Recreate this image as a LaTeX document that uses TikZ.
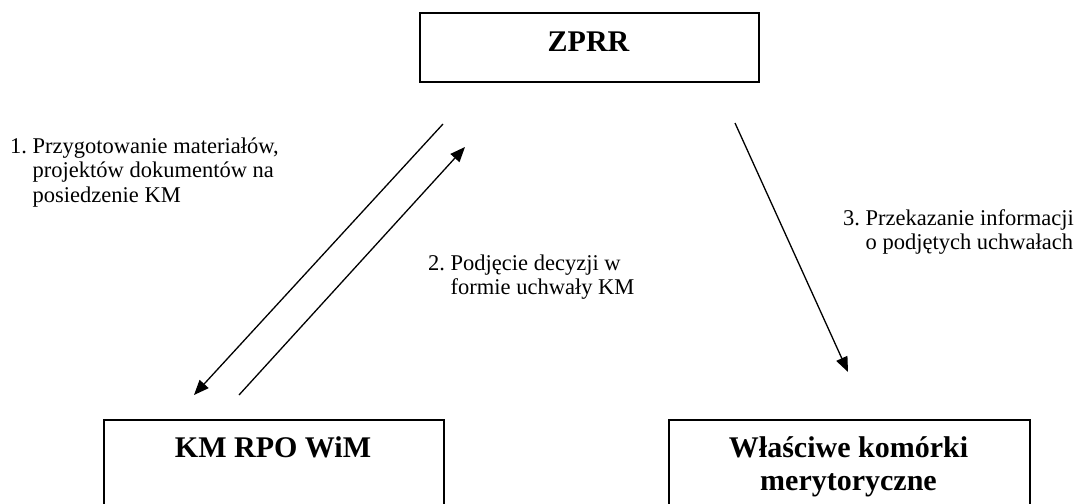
\documentclass[tikz,border=0pt]{standalone}
\usepackage{fontspec}
\setmainfont{Liberation Serif}
\usetikzlibrary{arrows.meta}
\begin{document}
\begin{tikzpicture}[x=1pt,y=-1pt,
  box/.style={draw=black, line width=1.8pt, rectangle, inner sep=0pt, anchor=north west},
  title/.style={font=\fontsize{30}{33}\selectfont\bfseries, anchor=base, inner sep=0pt},
  note/.style={font=\fontsize{22.5}{24.5}\selectfont, anchor=base west, inner sep=0pt},
  flow/.style={line width=1.3pt, -{Triangle[length=15pt,width=12pt]}}]
\useasboundingbox (0,0) rectangle (1078,503);
\clip (0,0) rectangle (1078,503);

% boxes
\node[box, minimum width=339pt, minimum height=69pt] (zprr) at (419,12) {};
\node[title] (zprrt) at (588.5,52) {ZPRR};

\node[box, minimum width=340pt, minimum height=120pt] (km) at (103,419) {};
\node[title] (kmt) at (273,457) {KM RPO WiM};

\node[box, minimum width=361pt, minimum height=120pt] (wk) at (668,419) {};
\node[title] (wkt) at (848.5,457) {\begin{tabular}[t]{@{}c@{}}Właściwe komórki\\ merytoryczne\end{tabular}};

% arrow end points
\coordinate (a1s) at (443,124);
\coordinate (a1e) at (194,395);
\coordinate (a2s) at (239,395);
\coordinate (a2e) at (465,147);
\coordinate (a3s) at (735,123);
\coordinate (a3e) at (848,372);

\draw[flow] (a1s) -- (a1e);
\draw[flow] (a2s) -- (a2e);
\draw[flow] (a3s) -- (a3e);

% labels
\node[note] (l1) at (10,153) {\begin{tabular}[t]{@{}l@{\ }l@{}}1. & Przygotowanie materiałów,\\ & projektów dokumentów na\\ & posiedzenie KM\end{tabular}};
\node[note] (l2) at (428,270) {\begin{tabular}[t]{@{}l@{\ }l@{}}2. & Podjęcie decyzji w\\ & formie uchwały KM\end{tabular}};
\node[note] (l3) at (843,225) {\begin{tabular}[t]{@{}l@{\ }l@{}}3. & Przekazanie informacji\\ & o podjętych uchwałach\end{tabular}};
\end{tikzpicture}
\end{document}
